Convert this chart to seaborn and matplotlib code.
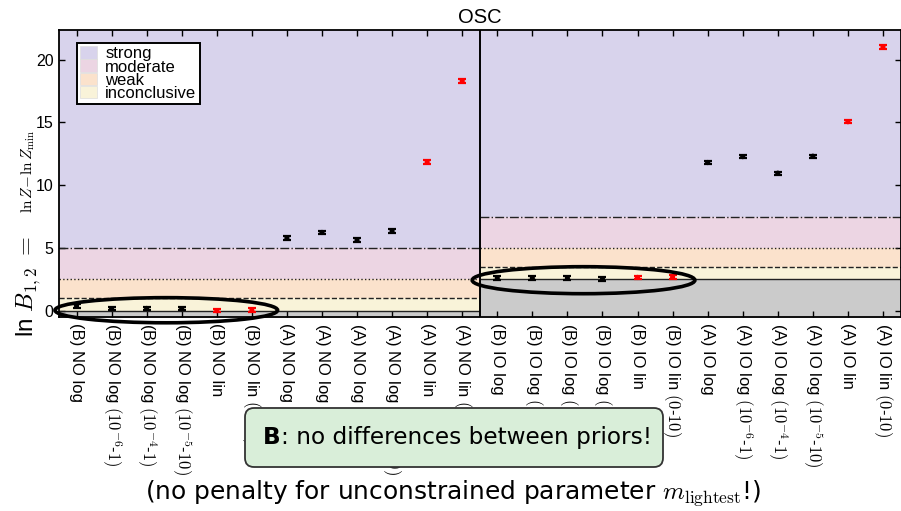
import numpy as np
import pandas as pd
import matplotlib
matplotlib.use("Agg")
import matplotlib.pyplot as plt
import seaborn as sns
from matplotlib.patches import Patch, Ellipse, FancyBboxPatch
from matplotlib.path import Path
from matplotlib.transforms import IdentityTransform

# ---- data -------------------------------------------------------------
tick_labels = [
    "(B) NO log", r"(B) NO log $(10^{-6}$-$1)$", r"(B) NO log $(10^{-4}$-$1)$",
    r"(B) NO log $(10^{-5}$-$10)$", "(B) NO lin", r"(B) NO lin $(0$-$10)$",
    "(A) NO log", r"(A) NO log $(10^{-6}$-$1)$", r"(A) NO log $(10^{-4}$-$1)$",
    r"(A) NO log $(10^{-5}$-$10)$", "(A) NO lin", r"(A) NO lin $(0$-$10)$",
    "(B) IO log", r"(B) IO log $(10^{-6}$-$1)$", r"(B) IO log $(10^{-4}$-$1)$",
    r"(B) IO log $(10^{-5}$-$10)$", "(B) IO lin", r"(B) IO lin $(0$-$10)$",
    "(A) IO log", r"(A) IO log $(10^{-6}$-$1)$", r"(A) IO log $(10^{-4}$-$1)$",
    r"(A) IO log $(10^{-5}$-$10)$", "(A) IO lin", r"(A) IO lin $(0$-$10)$",
]
ln_b = [0.38, 0.16, 0.18, 0.16, 0.0, 0.03,
        5.78, 6.23, 5.62, 6.34, 11.83, 18.29,
        2.60, 2.60, 2.60, 2.52, 2.65, 2.68,
        11.80, 12.27, 10.95, 12.30, 15.05, 21.00]
ln_b_err = [0.15, 0.14, 0.14, 0.14, 0.14, 0.15,
            0.14, 0.13, 0.13, 0.13, 0.14, 0.14,
            0.13, 0.13, 0.13, 0.13, 0.14, 0.14,
            0.13, 0.13, 0.13, 0.13, 0.14, 0.14]
prior_type = ["log", "log", "log", "log", "lin", "lin"] * 4

# Jeffreys-scale regions (lower edges) and ordering penalty per panel
scale_names = ["strong", "moderate", "weak", "inconclusive"]
scale_colors = ["#d8d3ec", "#ecd5e3", "#fbe2cc", "#f9f3d9"]
scale_edges = [5.0, 2.5, 1.0, 0.0]
panel_offsets = [0.0, 2.5]   # NO panel, IO panel

df = pd.DataFrame({"pos": np.arange(len(ln_b)), "lnB": ln_b,
                   "err": ln_b_err, "prior": prior_type})

# ---- style ------------------------------------------------------------
sns.set_theme(style="ticks", rc={"text.color": "black", "axes.labelcolor": "black",
                                 "xtick.color": "black", "ytick.color": "black",
                                 "axes.edgecolor": "black"})
plt.rcParams["font.family"] = ["Liberation Sans", "DejaVu Sans"]
plt.rcParams["mathtext.fontset"] = "cm"

W, H = 901, 511
fig = plt.figure(figsize=(W / 100, H / 100), dpi=100)
ax = fig.add_axes([59 / W, 1 - 317 / H, (900.5 - 59) / W, (317 - 30) / H])


def fx(px):
    return px / W


def fy(py):
    return 1 - py / H


x_lo, x_hi, x_mid = -0.5, 23.5, 11.5
y_lo, y_hi = -0.5, 22.35
spans = [(x_lo, x_mid), (x_mid, x_hi)]

# background regions for each panel
for (a, b), off in zip(spans, panel_offsets):
    ax.fill_between([a, b], y_lo - 5, off, color="#cbcbcb", lw=0, zorder=0)
    uppers = [40.0] + [e + off for e in scale_edges[:-1]]
    for name, col, lo, hi in zip(scale_names, scale_colors, scale_edges, uppers):
        ax.fill_between([a, b], lo + off, hi, color=col, lw=0, zorder=0)
    for e, ls in zip([0.0, 1.0, 2.5, 5.0], ["-", "--", ":", "-."]):
        ax.hlines(e + off, a, b, colors="#222222", linestyles=ls, lw=1.0, zorder=1)

ax.axvline(x_mid, color="black", lw=1.4, zorder=2)

# evidence values
palette = {"log": "black", "lin": "red"}
sns.scatterplot(data=df, x="pos", y="lnB", hue="prior", palette=palette,
                s=14, edgecolor="none", legend=False, zorder=4, ax=ax)
for kind, col in palette.items():
    sub = df[df["prior"] == kind]
    ax.errorbar(sub["pos"], sub["lnB"], yerr=sub["err"], fmt="none",
                ecolor=col, elinewidth=1.6, capsize=3.2, capthick=1.6, zorder=3)

ax.set_xlim(x_lo, x_hi)
ax.set_ylim(y_lo, y_hi)
ax.set_xticks(df["pos"])
ax.set_xticklabels(tick_labels, rotation=270, fontsize=12, va="top", ha="center")
ax.set_yticks([0, 5, 10, 15, 20])
ax.tick_params(axis="y", labelsize=11.5, pad=4)
ax.tick_params(direction="in", top=True, right=True, length=4.5, width=1.0,
               color="black")
ax.tick_params(axis="x", pad=4)
for s in ax.spines.values():
    s.set_color("black")
    s.set_linewidth(1.3)
ax.set_xlabel("")
ax.set_ylabel("")
ax.set_title("OSC", fontsize=14.5, pad=5)

# legend of the evidence scale
handles = [Patch(facecolor=c, edgecolor="#dddddd", lw=0.5) for c in scale_colors]
leg = ax.legend(handles, scale_names, loc="upper left",
                bbox_to_anchor=(0.0214, 0.955), borderaxespad=0,
                fontsize=12, frameon=True, fancybox=False, framealpha=1,
                edgecolor="black", labelspacing=-0.12, handlelength=1.0,
                handleheight=0.8, handletextpad=0.5, borderpad=0.2)
leg.get_frame().set_linewidth(1.4)

# groups of equal evidence
for cx, cy, w, h in [(2.56, 0.04, 6.35, 2.0), (14.46, 2.43, 6.35, 2.15)]:
    ax.add_patch(Ellipse((cx, cy), w, h, fill=False, ec="black", lw=2.6,
                         zorder=6, clip_on=False))

# y-axis label in two sizes
fig.text(fx(33), fy(337), r"ln $B_{1,2}$ $=$", rotation=90, rotation_mode="anchor",
         ha="left", va="baseline", fontsize=17.5)
fig.text(fx(32), fy(213), r"$\ln Z\!-\!\ln Z_{\min}$", rotation=90,
         rotation_mode="anchor", ha="left", va="baseline", fontsize=11)

# callout box (pixel geometry, origin bottom-left)
bx0, bx1, by0, by1 = 245, 663, H - 467, H - 408
box = FancyBboxPatch((bx0 / 100, by0 / 100), (bx1 - bx0) / 100, (by1 - by0) / 100,
                     boxstyle="round,pad=0,rounding_size=0.09",
                     transform=fig.dpi_scale_trans, fc="#d9eed9", ec="#333333",
                     lw=1.3, zorder=5)
fig.add_artist(box)

# tick labels are hidden where the callout covers them
hole = Path([(0, 0), (W, 0), (W, H), (0, H), (0, 0),
             (bx0, by0), (bx0, by1), (bx1, by1), (bx1, by0), (bx0, by0)],
            [Path.MOVETO, Path.LINETO, Path.LINETO, Path.LINETO, Path.CLOSEPOLY,
             Path.MOVETO, Path.LINETO, Path.LINETO, Path.LINETO, Path.CLOSEPOLY])
for lbl in ax.get_xticklabels():
    lbl.set_clip_path(hole, IdentityTransform())
    lbl.set_clip_on(True)

t1 = fig.text(fx(263), fy(444), "B", fontsize=16.7, weight="bold",
              family="DejaVu Sans", ha="left", va="baseline", zorder=6)
fig.canvas.draw()
bb = t1.get_window_extent(fig.canvas.get_renderer())
fig.text(bb.x1 / fig.bbox.width, fy(444), ": no differences between priors!",
         fontsize=16.7, family="DejaVu Sans", ha="left", va="baseline", zorder=6)

fig.text(fx(453), fy(493), r"(no penalty for unconstrained parameter $m_{\rm lightest}$!)",
         fontsize=17.9, family="DejaVu Sans", ha="center", va="center")

fig.savefig("out.png", dpi=100)
